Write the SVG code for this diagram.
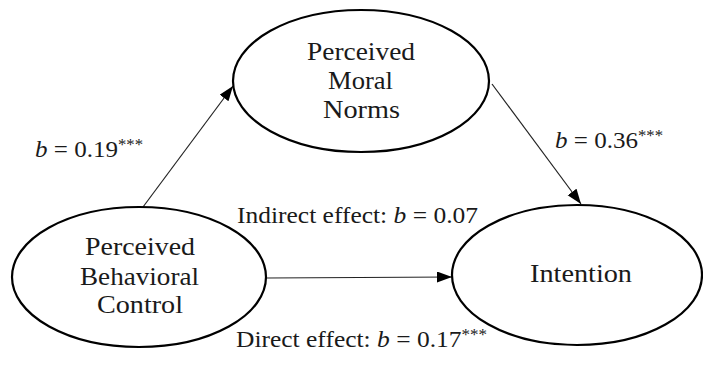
<svg xmlns="http://www.w3.org/2000/svg" width="703" height="382" viewBox="0 0 703 382">
<style>
  .node { fill: #ffffff; stroke: #000000; stroke-width: 2.2; }
  .lbl { font-family: "Liberation Serif", "Times New Roman", serif; font-size: 26px; fill: #1a1a1a; text-anchor: start; }
  .elbl { font-family: "Liberation Serif", "Times New Roman", serif; font-size: 24px; fill: #1a1a1a; text-anchor: start; }
  .edge { stroke: #222222; stroke-width: 1.2; fill: none; marker-end: url(#arrow); }
  .sup { font-size: 16px; }
  .it { font-style: italic; }
</style>
<defs>
  <marker id="arrow" markerUnits="userSpaceOnUse" markerWidth="16" markerHeight="13" refX="15" refY="5.5" orient="auto">
    <path d="M0,0 L15,5.5 L0,11 z" fill="#000000"/>
  </marker>
</defs>
<rect width="703" height="382" fill="#ffffff"/>

<g id="connectors">
  <line class="edge" x1="143" y1="207" x2="233" y2="86"/>
  <line class="edge" x1="492" y1="84" x2="581" y2="204"/>
  <line class="edge" x1="267" y1="278" x2="452" y2="277"/>
</g>

<g id="node-pmn">
  <ellipse class="node" cx="361" cy="81" rx="128" ry="71"/>
  <text class="lbl" x="307" y="60" textLength="108" lengthAdjust="spacingAndGlyphs">Perceived</text>
  <text class="lbl" x="328" y="89" textLength="65" lengthAdjust="spacingAndGlyphs">Moral</text>
  <text class="lbl" x="323" y="118" textLength="77" lengthAdjust="spacingAndGlyphs">Norms</text>
</g>

<g id="node-pbc">
  <ellipse class="node" cx="139" cy="277" rx="127" ry="70"/>
  <text class="lbl" x="85" y="255" textLength="110" lengthAdjust="spacingAndGlyphs">Perceived</text>
  <text class="lbl" x="80" y="285" textLength="119" lengthAdjust="spacingAndGlyphs">Behavioral</text>
  <text class="lbl" x="97" y="313" textLength="86" lengthAdjust="spacingAndGlyphs">Control</text>
</g>

<g id="node-int">
  <ellipse class="node" cx="577" cy="275" rx="125" ry="70"/>
  <text class="lbl" x="530" y="282" textLength="102" lengthAdjust="spacingAndGlyphs">Intention</text>
</g>

<g id="edge-labels">
  <text class="elbl" x="35" y="157" textLength="108" lengthAdjust="spacingAndGlyphs"><tspan class="it">b</tspan> = 0.19<tspan class="sup" dy="-7">***</tspan></text>
  <text class="elbl" x="555" y="148" textLength="108" lengthAdjust="spacingAndGlyphs"><tspan class="it">b</tspan> = 0.36<tspan class="sup" dy="-7">***</tspan></text>
  <text class="elbl" x="237" y="223" textLength="241" lengthAdjust="spacingAndGlyphs">Indirect effect: <tspan class="it">b</tspan> = 0.07</text>
  <text class="elbl" x="236" y="347" textLength="251" lengthAdjust="spacingAndGlyphs">Direct effect: <tspan class="it">b</tspan> = 0.17<tspan class="sup" dy="-7">***</tspan></text>
</g>
</svg>
